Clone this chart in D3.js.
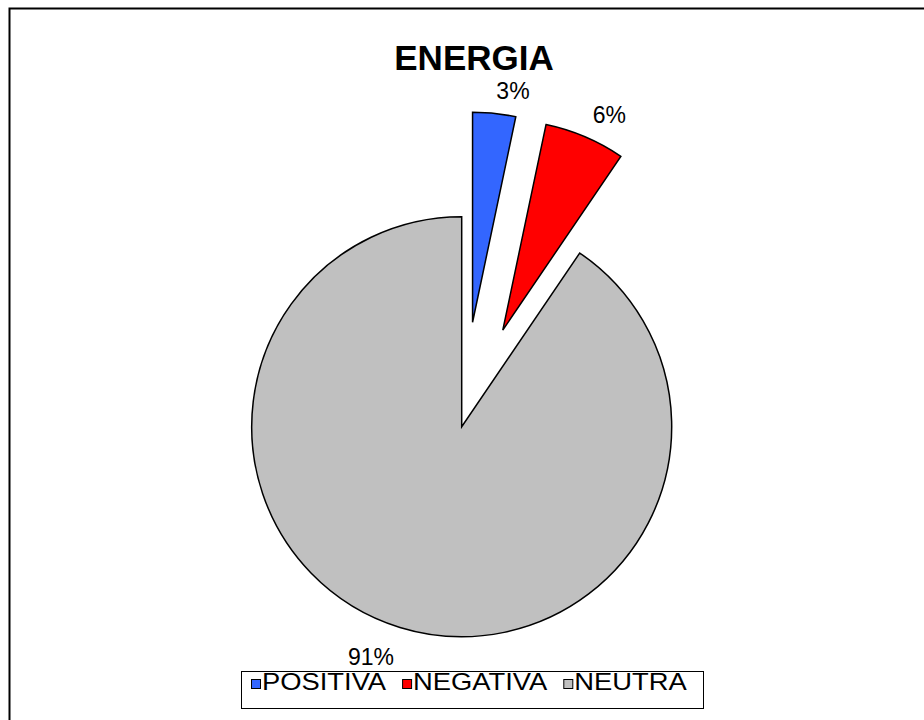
<!DOCTYPE html>
<html>
<head>
<meta charset="utf-8">
<script src="https://cdn.jsdelivr.net/npm/d3@7"></script>
<style>
  body { margin: 0; background: #fff; }
  svg text { font-family: "Liberation Sans", Arial, sans-serif; fill: #000; }
</style>
</head>
<body>
<div class="chart"></div>
<script>
// datos de la grafica
var categories = ["POSITIVA", "NEGATIVA", "NEUTRA"]
var values = [3.3, 6.2, 90.5]
var colors = ["#3366FF", "#FF0000", "#C0C0C0"]
var exploded = [true, true, false]
var title = "ENERGIA"

var width = 924,
    height = 720
var svg = d3.select(".chart")
            .append("svg")
            .attr("width", width)
            .attr("height", height)

// marco
svg.append("rect")
    .attr("x", 9.5).attr("y", 8.5)
    .attr("width", width).attr("height", height)
    .attr("fill", "none")
    .attr("stroke", "#000")
    .attr("stroke-width", 2)

svg.append("text")
    .attr("x", 474).attr("y", 70)
    .attr("text-anchor", "middle")
    .style("font-size", "35px")
    .style("font-weight", "bold")
    .text(title)

var cx = 461.7, cy = 426.7, radius = 210, explode = 105
var total = d3.sum(values)
var rows = categories.map(function(c, i) {
  return {name: c, value: values[i], color: colors[i], exploded: exploded[i]}
})

var pie = d3.pie().sort(null).value(function(d) { return d.value; })
var arc = d3.arc().innerRadius(0).outerRadius(radius)
var arcs = pie(rows)

function offset(d) {
  var a = (d.startAngle + d.endAngle) / 2
  var k = d.data.exploded ? explode : 0
  return [Math.sin(a) * k, -Math.cos(a) * k]
}

var g = svg.append("g").attr("transform", "translate(" + cx + "," + cy + ")")

g.selectAll("path")
    .data(arcs)
    .enter().append("path")
    .attr("transform", function(d) { var o = offset(d); return "translate(" + o[0] + "," + o[1] + ")"; })
    .attr("d", arc)
    .attr("fill", function(d) { return d.data.color; })
    .attr("stroke", "#000")
    .attr("stroke-width", 1.5)

// etiquetas de porcentaje
var labelR = radius + 20
g.selectAll("text.pct")
    .data(arcs)
    .enter().append("text")
    .attr("class", "pct")
    .each(function(d) {
      var a = (d.startAngle + d.endAngle) / 2
      var o = offset(d)
      var x = o[0] + Math.sin(a) * labelR
      var y = o[1] - Math.cos(a) * labelR
      d3.select(this)
        .attr("x", x).attr("y", y < 0 ? y + 5 : y + 2)
        .attr("text-anchor", x < 0 ? "end" : "start")
        .attr("dominant-baseline", y < 0 ? "alphabetic" : "hanging")
    })
    .style("font-size", "23px")
    .text(function(d) { return Math.round(d.value / total * 100) + "%"; })

// leyenda
var legend = svg.append("g")
legend.append("rect")
    .attr("x", 241.5).attr("y", 671.5)
    .attr("width", 462).attr("height", 37)
    .attr("fill", "#fff")
    .attr("stroke", "#000")
    .attr("stroke-width", 1)

var stretch = 1.14
var lx = 251
rows.forEach(function(d) {
  legend.append("rect")
      .attr("x", lx + 0.5).attr("y", 679.5)
      .attr("width", 9).attr("height", 9)
      .attr("fill", d.color)
      .attr("stroke", "#000")
      .attr("stroke-width", 1)
  var t = legend.append("text")
      .attr("transform", "translate(" + (lx + 11) + ",690) scale(" + stretch + ",1)")
      .style("font-size", "24px")
      .text(d.name)
  lx += 11 + t.node().getComputedTextLength() * stretch + 16
})
</script>
</body>
</html>
